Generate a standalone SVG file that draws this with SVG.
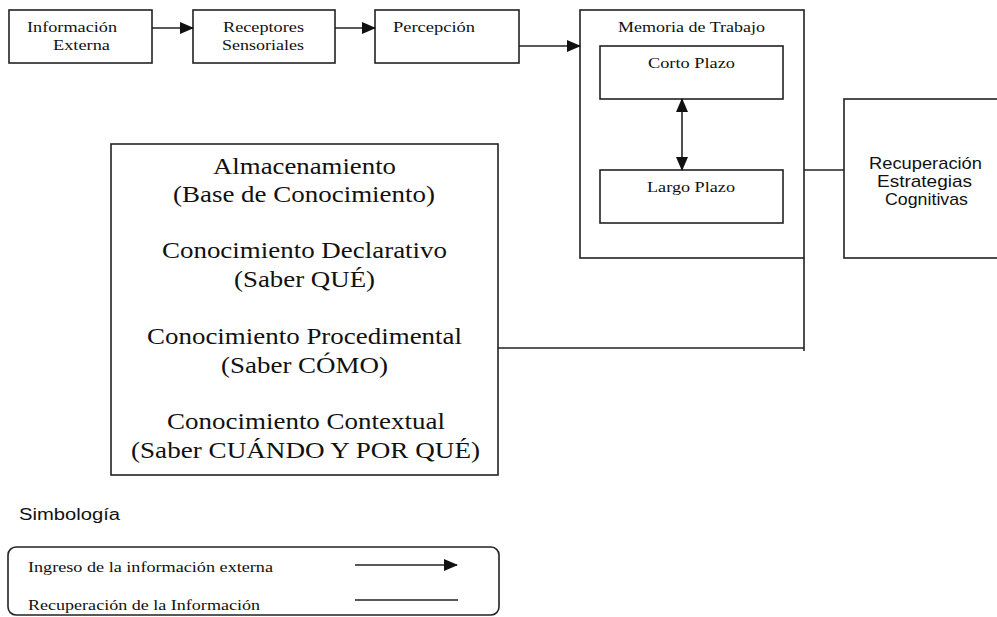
<svg xmlns="http://www.w3.org/2000/svg" width="997" height="617" viewBox="0 0 997 617">
<style>
.box{fill:#fff;stroke:#222;stroke-width:1.6}
.ln{fill:none;stroke:#222;stroke-width:1.6}
.s{font-family:"Liberation Serif","Times New Roman",serif;fill:#111}
.a{font-family:"Liberation Sans",Arial,sans-serif;fill:#111}
.sm{font-size:15px}
.big{font-size:23px}
</style>
<defs>
<marker id="ah" markerUnits="userSpaceOnUse" markerWidth="14" markerHeight="12" refX="13" refY="6" orient="auto-start-reverse">
<path d="M0,0 L14,6 L0,12 z" fill="#111"/>
</marker>
</defs>
<rect width="997" height="617" fill="#fff"/>

<g id="info-externa">
<rect class="box" x="9" y="10" width="143" height="53"/>
<text class="s sm" x="27" y="32" textLength="90" lengthAdjust="spacingAndGlyphs">Información</text>
<text class="s sm" x="53" y="50" textLength="57" lengthAdjust="spacingAndGlyphs">Externa</text>
</g>
<g id="receptores">
<rect class="box" x="193" y="10" width="142" height="53"/>
<text class="s sm" x="223" y="32" textLength="81" lengthAdjust="spacingAndGlyphs">Receptores</text>
<text class="s sm" x="222" y="50" textLength="82" lengthAdjust="spacingAndGlyphs">Sensoriales</text>
</g>
<g id="percepcion">
<rect class="box" x="375" y="10" width="144" height="53"/>
<text class="s sm" x="393" y="32" textLength="82" lengthAdjust="spacingAndGlyphs">Percepción</text>
</g>
<g id="memoria">
<rect class="box" x="580" y="10" width="224" height="248"/>
<text class="s sm" x="618" y="32" textLength="147" lengthAdjust="spacingAndGlyphs">Memoria de Trabajo</text>
</g>
<g id="corto-plazo">
<rect class="box" x="600" y="46" width="183" height="53"/>
<text class="s sm" x="648" y="68" textLength="87" lengthAdjust="spacingAndGlyphs">Corto Plazo</text>
</g>
<g id="largo-plazo">
<rect class="box" x="600" y="170" width="183" height="53"/>
<text class="s sm" x="647" y="192" textLength="88" lengthAdjust="spacingAndGlyphs">Largo Plazo</text>
</g>
<g id="recuperacion">
<rect class="box" x="844" y="99" width="170" height="159"/>
<text class="a" font-size="17" x="869" y="169" textLength="113" lengthAdjust="spacingAndGlyphs">Recuperación</text>
<text class="a" font-size="17" x="877" y="187" textLength="95" lengthAdjust="spacingAndGlyphs">Estrategias</text>
<text class="a" font-size="17" x="885" y="205" textLength="83" lengthAdjust="spacingAndGlyphs">Cognitivas</text>
</g>
<g id="almacenamiento">
<rect class="box" x="111" y="144" width="387" height="331"/>
<text class="s big" x="213" y="174" textLength="183" lengthAdjust="spacingAndGlyphs">Almacenamiento</text>
<text class="s big" x="173" y="202" textLength="262" lengthAdjust="spacingAndGlyphs">(Base de Conocimiento)</text>
<text class="s big" x="162" y="258" textLength="285" lengthAdjust="spacingAndGlyphs">Conocimiento Declarativo</text>
<text class="s big" x="234" y="287" textLength="141" lengthAdjust="spacingAndGlyphs">(Saber QUÉ)</text>
<text class="s big" x="147" y="344" textLength="315" lengthAdjust="spacingAndGlyphs">Conocimiento Procedimental</text>
<text class="s big" x="221" y="373" textLength="167" lengthAdjust="spacingAndGlyphs">(Saber CÓMO)</text>
<text class="s big" x="167" y="429" textLength="278" lengthAdjust="spacingAndGlyphs">Conocimiento Contextual</text>
<text class="s big" x="131" y="458" textLength="349" lengthAdjust="spacingAndGlyphs">(Saber CUÁNDO Y POR QUÉ)</text>
</g>

<g id="connectors">
<line class="ln" x1="152" y1="28" x2="193" y2="28" marker-end="url(#ah)"/>
<line class="ln" x1="335" y1="28" x2="375" y2="28" marker-end="url(#ah)"/>
<line class="ln" x1="519" y1="46" x2="580" y2="46" marker-end="url(#ah)"/>
<line class="ln" x1="682" y1="99" x2="682" y2="170" marker-start="url(#ah)" marker-end="url(#ah)"/>
<line class="ln" x1="804" y1="170" x2="844" y2="170"/>
<line class="ln" x1="804" y1="258" x2="804" y2="351"/>
<line class="ln" x1="498" y1="348" x2="804" y2="348"/>
</g>

<g id="legend">
<text class="a" font-size="16" x="19" y="520" textLength="101" lengthAdjust="spacingAndGlyphs">Simbología</text>
<rect class="box" x="8" y="547" width="491" height="68" rx="8" ry="8"/>
<text class="s sm" x="28" y="572" textLength="245" lengthAdjust="spacingAndGlyphs">Ingreso de la información externa</text>
<text class="s sm" x="28" y="610" textLength="232" lengthAdjust="spacingAndGlyphs">Recuperación de la Información</text>
<line class="ln" x1="355" y1="565" x2="457" y2="565" marker-end="url(#ah)"/>
<line class="ln" x1="355" y1="600" x2="458" y2="600"/>
</g>
</svg>
